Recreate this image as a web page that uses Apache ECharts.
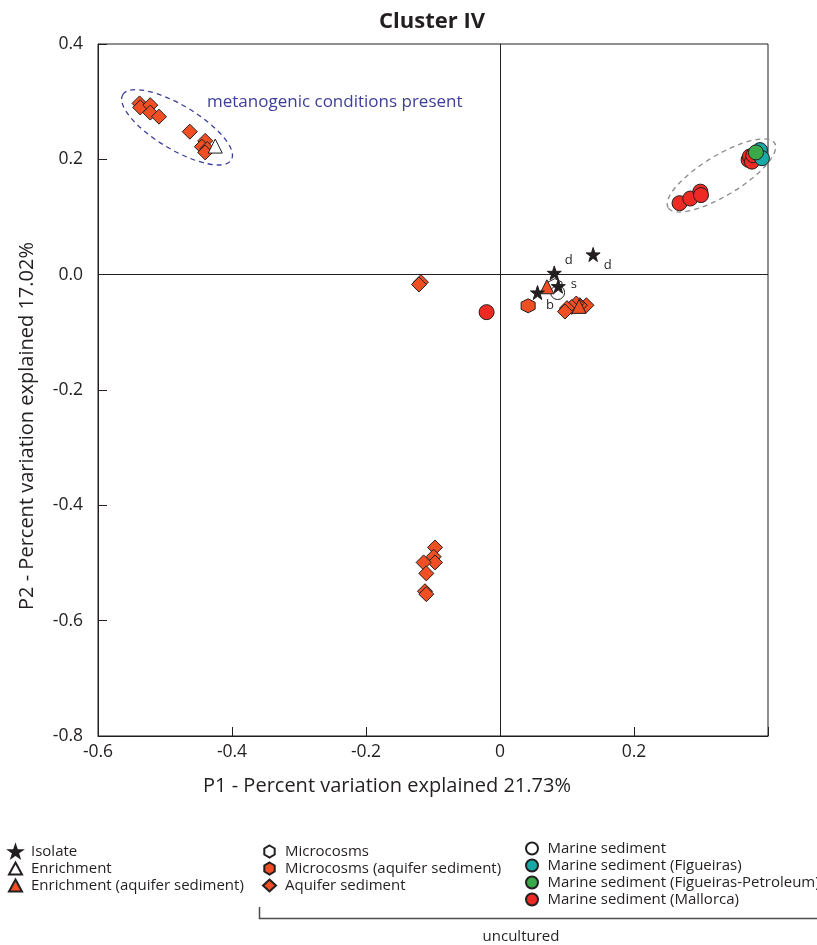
<!DOCTYPE html>
<html>
<head>
<meta charset="utf-8">
<script src="https://cdn.jsdelivr.net/npm/echarts@6/dist/echarts.min.js"></script>
<style>html,body{margin:0;padding:0;background:#fff}#c{width:817px;height:945px}</style>
</head>
<body>
<div id="c"></div>
<script>
// ---- data ----
const xTicks = [-0.6, -0.4, -0.2, 0, 0.2, 0.4];
const yTicks = [-0.8, -0.6, -0.4, -0.2, 0, 0.2, 0.4];

const isolateX = [0.081, 0.139, 0.087, 0.056];
const isolateY = [0.003, 0.035, -0.020, -0.031];
const isolateLabels = ['d', 'd', 's', 'b'];

const enrichmentX = [-0.425];
const enrichmentY = [0.223];

const enrichmentAqX = [0.070, 0.118];
const enrichmentAqY = [-0.021, -0.055];

const microcosmsX = [0.082];
const microcosmsY = [-0.019];

const microcosmsAqX = [0.042];
const microcosmsAqY = [-0.054];

const aquiferX = [-0.538, -0.537, -0.522, -0.522, -0.509, -0.463, -0.440, -0.445, -0.437, -0.440,
                  -0.118, -0.121,
                  0.129, 0.119, 0.114, 0.107, 0.100, 0.097,
                  -0.097, -0.099, -0.097, -0.114, -0.110, -0.112, -0.110];
const aquiferY = [0.297, 0.290, 0.294, 0.281, 0.274, 0.248, 0.232, 0.222, 0.218, 0.212,
                  -0.013, -0.017,
                  -0.053, -0.053, -0.050, -0.056, -0.058, -0.064,
                  -0.473, -0.489, -0.499, -0.499, -0.518, -0.549, -0.554];

const marineX = [0.086];
const marineY = [-0.031];

const figueirasX = [0.388, 0.391];
const figueirasY = [0.216, 0.202];

const petroleumX = [0.382];
const petroleumY = [0.212];

const mallorcaX = [0.268, 0.284, 0.299, 0.300, 0.371, 0.373, 0.376, 0.378, -0.020];
const mallorcaY = [0.124, 0.132, 0.144, 0.138, 0.199, 0.205, 0.196, 0.207, -0.065];

// ellipse annotations: major-axis endpoints in data units
const ellipseBlue = [[-0.563, 0.312, -0.401, 0.199]];
const ellipseGray = [[0.251, 0.116, 0.410, 0.228]];

// ---- helpers ----
const zip = (xs, ys) => xs.map((x, i) => [x, ys[i]]);
const STAR = 'path://M50,0 L61.8,35.1 L98.1,35.1 L68.8,56.8 L79.4,91.0 L50,70 L20.6,91.0 L31.2,56.8 L1.9,35.1 L38.2,35.1 Z';
const HEX = 'path://M50,0 L93.3,25 L93.3,75 L50,100 L6.7,75 L6.7,25 Z';
const EDGE = '#231F20';
const ORANGE = '#F04E23';
const FONT = 'Open Sans';

const labelStyle = [
  {position: 'right', offset: [-2, -13]},
  {position: 'right', offset: [-2, 11]},
  {position: 'right', offset: [0, -2]},
  {position: 'right', offset: [-4, 13]}
];

function pt(name, xs, ys, symbol, size, color, z) {
  return {
    name, type: 'scatter', symbol, symbolSize: size, z: z || 3,
    data: zip(xs, ys),
    itemStyle: {color, borderColor: EDGE, borderWidth: 1, opacity: 1},
    emphasis: {disabled: true}
  };
}

function ellipseSeries(data, color, ry) {
  return {
    type: 'custom', silent: true, clip: false, z: 2,
    encode: {x: [0, 2], y: [1, 3]},
    data,
    renderItem(params, api) {
      const p1 = api.coord([api.value(0), api.value(1)]);
      const p2 = api.coord([api.value(2), api.value(3)]);
      const dx = p2[0] - p1[0], dy = p2[1] - p1[1];
      return {
        type: 'ellipse',
        x: (p1[0] + p2[0]) / 2, y: (p1[1] + p2[1]) / 2,
        rotation: -Math.atan2(dy, dx),
        shape: {cx: 0, cy: 0, rx: Math.hypot(dx, dy) / 2, ry},
        style: {fill: 'none', stroke: color, lineWidth: 1.3, lineDash: [5, 4]}
      };
    }
  };
}

const isolateData = zip(isolateX, isolateY).map((v, i) => ({
  value: v,
  label: Object.assign({show: true, formatter: isolateLabels[i], fontSize: 13, color: '#231F20', fontFamily: FONT}, labelStyle[i])
}));

const chart = echarts.init(document.getElementById('c'), null, {renderer: 'canvas'});
const axisText = {fontSize: 17.5, color: '#231F20', fontFamily: FONT};
const legendText = {fontSize: 15, color: '#231F20', fontFamily: FONT, padding: [0, 0, 0, 4]};
const legendBase = {orient: 'vertical', padding: 0, itemWidth: 13, itemHeight: 12, itemGap: 2, textStyle: legendText, selectedMode: false};

chart.setOption({
  animation: false,
  backgroundColor: '#fff',
  textStyle: {fontFamily: FONT},
  grid: {left: 98, top: 44, width: 670, height: 692, show: true, borderColor: EDGE, borderWidth: 1, backgroundColor: 'transparent'},
  xAxis: {
    type: 'value', min: xTicks[0], max: xTicks[xTicks.length - 1], interval: 0.2,
    axisLine: {show: true, onZero: false, lineStyle: {color: EDGE, width: 1}},
    axisTick: {show: true, inside: true, length: 9, lineStyle: {color: EDGE}},
    splitLine: {show: false},
    axisLabel: Object.assign({margin: 7, formatter: v => Math.abs(v) < 1e-9 ? '0' : (v > 0.35 ? '' : v.toFixed(1))}, axisText)
  },
  yAxis: {
    type: 'value', min: yTicks[0], max: yTicks[yTicks.length - 1], interval: 0.2,
    axisLine: {show: true, onZero: false, lineStyle: {color: EDGE, width: 1}},
    axisTick: {show: true, inside: true, length: 9, lineStyle: {color: EDGE}},
    splitLine: {show: false},
    axisLabel: Object.assign({margin: 15, formatter: v => (Math.abs(v) < 1e-9 ? 0 : v).toFixed(1)}, axisText)
  },
  legend: [
    Object.assign({left: 8, top: 844, data: ['Isolate', 'Enrichment', 'Enrichment (aquifer sediment)']}, legendBase),
    Object.assign({left: 262, top: 844, data: ['Microcosms', 'Microcosms (aquifer sediment)', 'Aquifer sediment']}, legendBase),
    Object.assign({left: 525, top: 841, data: ['Marine sediment', 'Marine sediment (Figueiras)', 'Marine sediment (Figueiras-Petroleum)', 'Marine sediment (Mallorca)']}, legendBase)
  ],
  series: [
    {
      type: 'line', data: [], silent: true,
      markLine: {
        silent: true, symbol: 'none', label: {show: false},
        lineStyle: {color: EDGE, width: 1, type: 'solid'},
        data: [{xAxis: 0}, {yAxis: 0}]
      }
    },
    ellipseSeries(ellipseBlue, '#3C3E99', 22),
    ellipseSeries(ellipseGray, '#8C8C8C', 20),
    pt('Aquifer sediment', aquiferX, aquiferY, 'diamond', 15, ORANGE, 3),
    pt('Enrichment', enrichmentX, enrichmentY, 'triangle', 14, '#fff', 3),
    pt('Microcosms (aquifer sediment)', microcosmsAqX, microcosmsAqY, HEX, 14, ORANGE, 3),
    pt('Marine sediment (Mallorca)', mallorcaX, mallorcaY, 'circle', 15, '#EE2A24', 3),
    pt('Marine sediment (Figueiras)', figueirasX, figueirasY, 'circle', 15, '#17A8A8', 4),
    pt('Marine sediment (Figueiras-Petroleum)', petroleumX, petroleumY, 'circle', 15, '#3AAA49', 5),
    pt('Microcosms', microcosmsX, microcosmsY, HEX, 14, '#fff', 4),
    pt('Marine sediment', marineX, marineY, 'circle', 14, '#fff', 4),
    pt('Enrichment (aquifer sediment)', enrichmentAqX, enrichmentAqY, 'triangle', 14, ORANGE, 5),
    Object.assign(pt('Isolate', [], [], STAR, 14, '#231F20', 6), {data: isolateData})
  ],
  graphic: [
    {type: 'text', x: 432, y: 22, style: {text: 'Cluster IV', fontSize: 22, fontWeight: 'bold', fill: '#231F20', fontFamily: FONT, align: 'center', verticalAlign: 'middle'}},
    {type: 'text', x: 207, y: 102, style: {text: 'metanogenic conditions present', fontSize: 17, fill: '#3C3E99', fontFamily: FONT, align: 'left', verticalAlign: 'middle'}},
    {type: 'text', x: 387, y: 786, style: {text: 'P1 - Percent variation explained 21.73%', fontSize: 20, fill: '#231F20', fontFamily: FONT, align: 'center', verticalAlign: 'middle'}},
    {type: 'text', x: 27, y: 426, rotation: Math.PI / 2, style: {text: 'P2 - Percent variation explained 17.02%', fontSize: 20, fill: '#231F20', fontFamily: FONT, align: 'center', verticalAlign: 'middle'}},
    {type: 'polyline', shape: {points: [[259.5, 907], [259.5, 918.5], [817, 918.5]]}, style: {stroke: '#4D4D4D', lineWidth: 1.5, fill: 'none'}},
    {type: 'text', x: 521, y: 937, style: {text: 'uncultured', fontSize: 15, fill: '#231F20', fontFamily: FONT, align: 'center', verticalAlign: 'middle'}}
  ]
});
</script>
</body>
</html>
